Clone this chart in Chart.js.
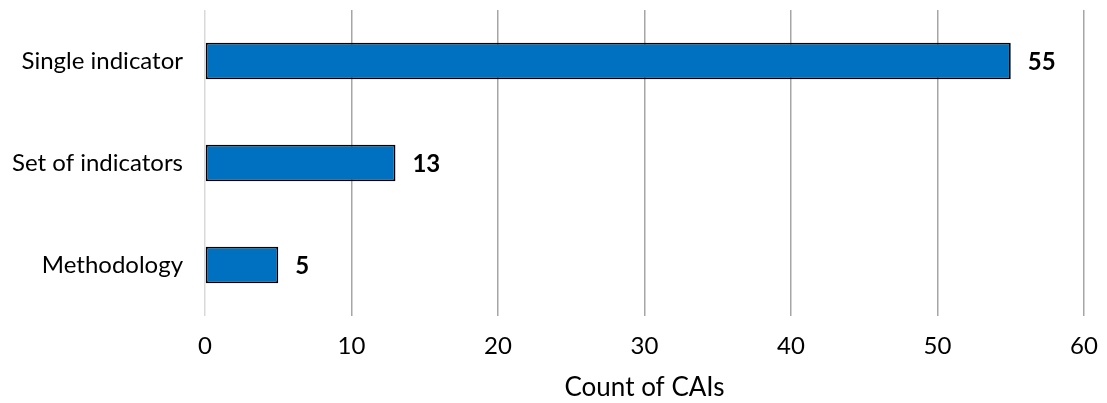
<!DOCTYPE html>
<html>
<head>
<meta charset="utf-8">
<script src="https://cdn.jsdelivr.net/npm/chart.js@4/dist/chart.umd.min.js"></script>
<style>
  html, body { margin: 0; padding: 0; background: #fff; }
  #wrap { width: 1107px; height: 403px; }
</style>
</head>
<body>
<div id="wrap"><canvas id="caichart"></canvas></div>
<script>
var categories = ["Single indicator", "Set of indicators", "Methodology"];
var counts = [55, 13, 5];
var xTicks = [0, 10, 20, 30, 40, 50, 60];

var FONT = "Lato, 'Open Sans', sans-serif";

// bold value next to each bar
var valueLabels = {
  id: 'valueLabels',
  afterDatasetsDraw: function (chart) {
    var c = chart.ctx;
    var meta = chart.getDatasetMeta(0);
    c.save();
    c.font = "bold 24px " + FONT;
    c.fillStyle = "#000";
    c.textAlign = "left";
    c.textBaseline = "middle";
    meta.data.forEach(function (bar, i) {
      c.fillText(String(counts[i]), bar.x + 17, bar.y + 1);
    });
    c.restore();
  }
};

new Chart(document.getElementById("caichart"), {
  type: 'bar',
  data: {
    labels: categories,
    datasets: [{
      data: counts,
      backgroundColor: "#0070c0",
      borderColor: "#000",
      borderWidth: 1.8,
      borderSkipped: false,
      barPercentage: 0.36,
      categoryPercentage: 1
    }]
  },
  options: {
    indexAxis: 'y',
    responsive: true,
    maintainAspectRatio: false,
    animation: false,
    layout: { padding: { top: 10, right: 23, left: 0, bottom: 0 } },
    plugins: {
      legend: { display: false },
      tooltip: { enabled: false }
    },
    scales: {
      x: {
        min: 0,
        max: 60,
        afterBuildTicks: function (scale) {
          scale.ticks = xTicks.map(function (v) { return { value: v }; });
        },
        afterFit: function (scale) {
          scale.height = 87;
          scale.paddingLeft = 0;
          scale.paddingRight = 0;
        },
        border: { display: false },
        grid: {
          drawTicks: false,
          lineWidth: 1.5,
          color: function (ctx) {
            return ctx.tick && ctx.tick.value === 0 ? "#d9d9d9" : "#a6a6a6";
          }
        },
        ticks: {
          padding: 16,
          color: "#000",
          font: { family: FONT, size: 24 }
        },
        title: {
          display: true,
          text: "Count of CAIs",
          color: "#000",
          font: { family: FONT, size: 26 },
          padding: { top: 4, bottom: 0 }
        }
      },
      y: {
        afterFit: function (scale) {
          scale.width = 205;
          scale.paddingTop = 0;
          scale.paddingBottom = 0;
        },
        border: { display: false },
        grid: { display: false, drawTicks: false },
        ticks: {
          padding: 22,
          color: "#000",
          font: { family: FONT, size: 24 }
        }
      }
    }
  },
  plugins: [valueLabels]
});
</script>
</body>
</html>
